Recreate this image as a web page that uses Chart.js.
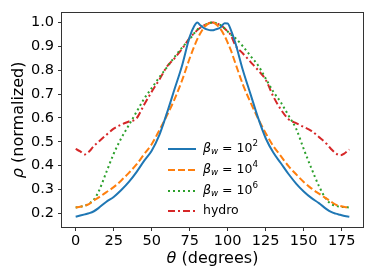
<!DOCTYPE html>
<html>
<head>
<meta charset="utf-8">
<script src="https://cdn.jsdelivr.net/npm/chart.js@4"></script>
<style>
  html, body { margin: 0; padding: 0; background: #fff; }
</style>
</head>
<body>
<canvas id="myChart" width="374" height="280"></canvas>
<script>
// angle grid (degrees)
const theta = [0, 3, 6, 9, 12, 15, 20, 25, 30, 35, 40, 45, 50, 55, 60, 65, 70, 75, 78, 80, 82, 85, 88, 90,
  92, 95, 98, 100, 102, 105, 110, 115, 120, 125, 130, 135, 140, 145, 150, 155, 160, 165, 168, 171, 174, 177, 180];

const rhoBeta2 = [0.186, 0.191, 0.196, 0.201, 0.209, 0.222, 0.248, 0.269, 0.298, 0.332, 0.373, 0.42, 0.463, 0.528, 0.62, 0.72, 0.82, 0.94, 0.985, 1.0, 0.988, 0.974, 0.968, 0.967,
  0.971, 0.978, 0.997, 0.996, 0.97, 0.915, 0.80, 0.70, 0.60, 0.515, 0.455, 0.41, 0.365, 0.325, 0.292, 0.265, 0.243, 0.218, 0.206, 0.199, 0.194, 0.189, 0.186];

const rhoBeta4 = [0.225, 0.228, 0.232, 0.24, 0.254, 0.266, 0.288, 0.31, 0.338, 0.37, 0.405, 0.448, 0.49, 0.548, 0.61, 0.678, 0.758, 0.85, 0.9, 0.93, 0.955, 0.983, 0.997, 1.0,
  0.994, 0.975, 0.943, 0.915, 0.885, 0.83, 0.74, 0.665, 0.597, 0.536, 0.482, 0.44, 0.398, 0.364, 0.332, 0.305, 0.283, 0.262, 0.249, 0.237, 0.231, 0.227, 0.225];

const rhoBeta6 = [0.225, 0.228, 0.232, 0.242, 0.258, 0.29, 0.37, 0.45, 0.515, 0.57, 0.625, 0.68, 0.725, 0.77, 0.812, 0.855, 0.895, 0.93, 0.955, 0.97, 0.98, 0.99, 0.998, 1.0,
  0.998, 0.99, 0.975, 0.962, 0.95, 0.935, 0.9, 0.86, 0.82, 0.765, 0.71, 0.665, 0.61, 0.555, 0.47, 0.39, 0.315, 0.258, 0.24, 0.232, 0.228, 0.226, 0.225];

const rhoHydro = [0.47, 0.46, 0.447, 0.46, 0.483, 0.5, 0.528, 0.555, 0.572, 0.585, 0.598, 0.655, 0.71, 0.76, 0.815, 0.85, 0.89, 0.935, 0.955, 0.968, 0.978, 0.99, 0.998, 1.0,
  0.998, 0.99, 0.975, 0.962, 0.948, 0.905, 0.87, 0.835, 0.80, 0.76, 0.69, 0.635, 0.595, 0.578, 0.562, 0.546, 0.52, 0.492, 0.47, 0.452, 0.443, 0.452, 0.468];

const seriesLabels = ["β_w = 10^2", "β_w = 10^4", "β_w = 10^6", "hydro"];
const xTicks = [0, 25, 50, 75, 100, 125, 150, 175];
const yTicks = [0.2, 0.3, 0.4, 0.5, 0.6, 0.7, 0.8, 0.9, 1.0];

const FONT = '"DejaVu Sans", sans-serif';

function pts(arr) {
  return theta.map((t, i) => ({ x: t, y: arr[i] }));
}

// split "β_w = 10^2" into styled runs (italic symbol, subscript, superscript)
function labelRuns(label, size) {
  const m = label.match(/^(.)_(\w) = (\d+)\^(\d+)$/);
  if (!m) return [{ t: label, size: size }];
  return [
    { t: m[1], size: size, italic: true },
    { t: m[2], size: size * 0.7, italic: true, dy: 3 },
    { t: " = " + m[3], size: size },
    { t: m[4], size: size * 0.7, dy: -5 },
  ];
}

function runsWidth(ctx, runs) {
  let w = 0;
  runs.forEach((r) => {
    ctx.font = (r.italic ? "italic " : "") + r.size + "px " + FONT;
    w += ctx.measureText(r.t).width;
  });
  return w;
}

function drawRuns(ctx, runs, x, y) {
  runs.forEach((r) => {
    ctx.font = (r.italic ? "italic " : "") + r.size + "px " + FONT;
    ctx.fillText(r.t, x, y + (r.dy || 0));
    x += ctx.measureText(r.t).width;
  });
}

const decorations = {
  id: "decorations",
  afterDraw(chart) {
    const ctx = chart.ctx;
    const a = chart.chartArea;
    ctx.save();
    // frame
    ctx.strokeStyle = "#333";
    ctx.lineWidth = 1;
    ctx.strokeRect(Math.round(a.left) - 0.5, Math.round(a.top) - 0.5,
      Math.round(a.right - a.left) + 1, Math.round(a.bottom - a.top) + 1);

    ctx.fillStyle = "#000";
    ctx.textBaseline = "middle";
    ctx.textAlign = "left";

    // x title
    const xr = [{ t: "θ", size: 16, italic: true }, { t: " (degrees)", size: 16 }];
    const xw = runsWidth(ctx, xr);
    drawRuns(ctx, xr, (a.left + a.right) / 2 - xw / 2, 259);

    // y title
    const yr = [{ t: "ρ", size: 16, italic: true }, { t: " (normalized)", size: 16 }];
    const yw = runsWidth(ctx, yr);
    ctx.save();
    ctx.translate(19, (a.top + a.bottom) / 2);
    ctx.rotate(-Math.PI / 2);
    drawRuns(ctx, yr, -yw / 2, 0);
    ctx.restore();

    // legend
    const rows = [149, 170, 191, 211];
    chart.data.datasets.forEach((ds, i) => {
      const y = rows[i];
      ctx.beginPath();
      ctx.setLineDash(ds.borderDash || []);
      ctx.strokeStyle = ds.borderColor;
      ctx.lineWidth = ds.borderWidth;
      ctx.moveTo(168, y);
      ctx.lineTo(196, y);
      ctx.stroke();
      ctx.setLineDash([]);
      ctx.fillStyle = "#000";
      drawRuns(ctx, labelRuns(ds.label, 12.5), 203, y);
    });
    ctx.restore();
  },
};

const ctx = document.getElementById("myChart");

new Chart(ctx, {
  type: "line",
  data: {
    datasets: [
      {
        label: seriesLabels[0],
        data: pts(rhoBeta2),
        borderColor: "#1f77b4",
        borderWidth: 2,
        pointRadius: 0,
        cubicInterpolationMode: "monotone",
      },
      {
        label: seriesLabels[1],
        data: pts(rhoBeta4),
        borderColor: "#ff7f0e",
        borderWidth: 2,
        borderDash: [7, 3],
        pointRadius: 0,
        cubicInterpolationMode: "monotone",
      },
      {
        label: seriesLabels[2],
        data: pts(rhoBeta6),
        borderColor: "#2ca02c",
        borderWidth: 2,
        borderDash: [2, 3],
        pointRadius: 0,
        cubicInterpolationMode: "monotone",
      },
      {
        label: seriesLabels[3],
        data: pts(rhoHydro),
        borderColor: "#d62728",
        borderWidth: 2,
        borderDash: [7, 3, 2, 3],
        pointRadius: 0,
        cubicInterpolationMode: "monotone",
      },
    ],
  },
  options: {
    responsive: false,
    animation: false,
    devicePixelRatio: 1,
    layout: {
      padding: { left: 0, right: 11, top: 11, bottom: 0 },
    },
    plugins: {
      legend: { display: false },
      tooltip: { enabled: false },
    },
    scales: {
      x: {
        type: "linear",
        min: -9,
        max: 189,
        afterBuildTicks: (scale) => {
          scale.ticks = xTicks.map((v) => ({ value: v }));
        },
        afterFit: (scale) => {
          scale.height = 53;
        },
        ticks: {
          autoSkip: false,
          maxRotation: 0,
          padding: 2,
          color: "#000",
          font: { family: FONT, size: 14.5 },
          callback: (value) => String(value),
        },
        grid: {
          display: true,
          drawOnChartArea: false,
          drawTicks: true,
          tickLength: 4,
          color: "#333",
        },
        border: { display: false },
      },
      y: {
        min: 0.143,
        max: 1.041,
        afterBuildTicks: (scale) => {
          scale.ticks = yTicks.map((v) => ({ value: v }));
        },
        afterFit: (scale) => {
          scale.width = 62;
        },
        ticks: {
          autoSkip: false,
          padding: 4,
          color: "#000",
          font: { family: FONT, size: 14.5 },
          callback: (value) => Number(value).toFixed(1),
        },
        grid: {
          display: true,
          drawOnChartArea: false,
          drawTicks: true,
          tickLength: 4,
          color: "#333",
        },
        border: { display: false },
      },
    },
  },
  plugins: [decorations],
});
</script>
</body>
</html>
